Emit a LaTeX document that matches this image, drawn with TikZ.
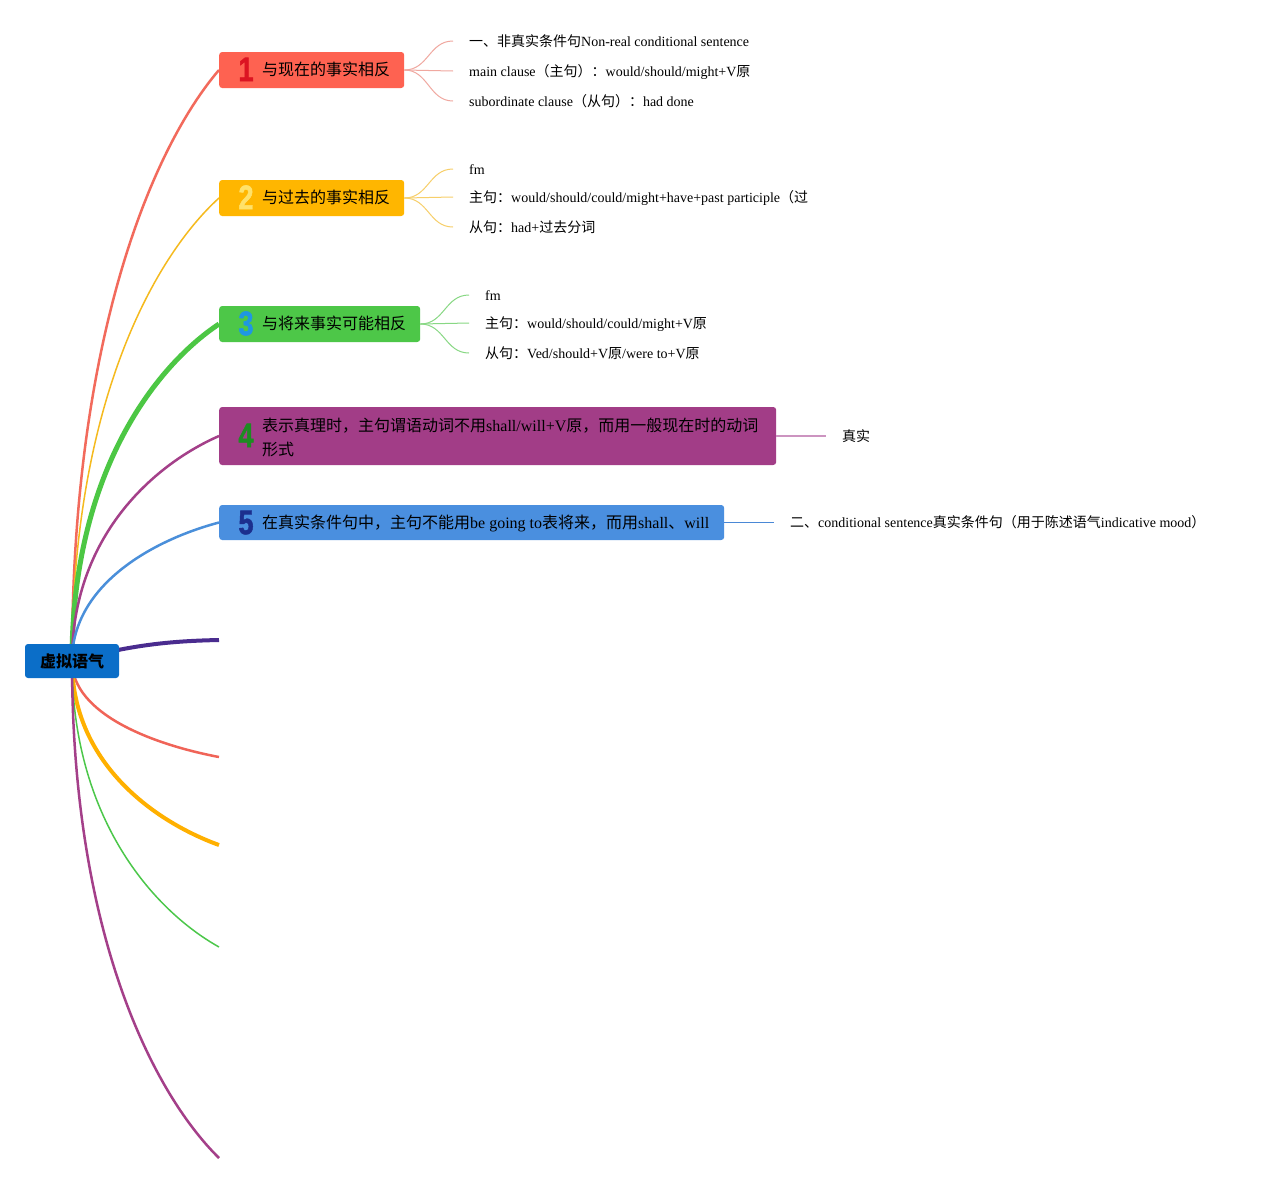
\documentclass[tikz,border=0pt]{standalone}
\usepackage{fontspec}
\usepackage{graphicx}
\setmainfont{Liberation Serif}
\newfontfamily\cjk{Noto Sans CJK SC}
\newfontfamily\digitfont[BoldFeatures={FakeBold=1.6}]{Liberation Sans}
\newcommand{\zhs}[1]{{\cjk #1}}
\usetikzlibrary{backgrounds}
\definecolor{rootC}{HTML}{0B6EC8}
\definecolor{boxA}{HTML}{FE6251}
\definecolor{boxB}{HTML}{FFB600}
\definecolor{boxC}{HTML}{4DC748}
\definecolor{boxD}{HTML}{A23D87}
\definecolor{boxE}{HTML}{4A8FDF}
\definecolor{lineA}{HTML}{F26A5C}
\definecolor{lineB}{HTML}{F5BA1E}
\definecolor{lineC}{HTML}{4CC744}
\definecolor{lineD}{HTML}{A44089}
\definecolor{lineE}{HTML}{4A8FDA}
\definecolor{lineF}{HTML}{4A2C8F}
\definecolor{lineG}{HTML}{F06458}
\definecolor{lineH}{HTML}{FFB000}
\definecolor{lineI}{HTML}{4CC74A}
\definecolor{lineJ}{HTML}{A43F89}
\definecolor{leafA}{HTML}{F0A8A0}
\definecolor{leafB}{HTML}{F7CF6A}
\definecolor{leafC}{HTML}{88D884}
\definecolor{leafD}{HTML}{CC94C0}
\definecolor{leafE}{HTML}{4A88D6}
\definecolor{digA}{HTML}{DC1422}
\definecolor{digB}{HTML}{FFE26A}
\definecolor{digC}{HTML}{1F97E3}
\definecolor{digD}{HTML}{1E8C22}
\definecolor{digE}{HTML}{1C2F8E}
\begin{document}
\begin{tikzpicture}[x=1pt,y=-1pt,
  bbox/.style={rectangle, rounded corners=3pt, inner sep=0pt, minimum height=36pt, anchor=west},
  btext/.style={inner sep=0pt, anchor=west, font=\fontsize{16}{24}\selectfont, text height=11.5pt, text depth=0pt},
  btextml/.style={inner sep=0pt, anchor=west, align=left, font=\fontsize{16}{24}\selectfont},
  dig/.style={inner sep=0pt, font=\fontsize{34}{34}\digitfont\bfseries\selectfont, text height=24.3pt, text depth=0pt},
  leaf/.style={inner xsep=16pt, inner ysep=0pt, anchor=west, font=\fontsize{14}{17}\selectfont, text height=10pt, text depth=0pt},
  leafline/.style={line width=1pt},
]
\useasboundingbox (0,0) rectangle (1265,1184);

% root
\node[fill=rootC, rounded corners=3pt, minimum width=94pt, minimum height=34pt, inner sep=0pt,
      font=\cjk\bfseries\fontsize{16}{16}\selectfont] (root) at (72,661) {虚拟语气};

% branch boxes
\node[bbox, fill=boxA, minimum width=185pt] (b1) at (219,70) {};
\node[bbox, fill=boxB, minimum width=185pt] (b2) at (219,198) {};
\node[bbox, fill=boxC, minimum width=201pt] (b3) at (219,324) {};
\node[bbox, fill=boxD, minimum width=557pt, minimum height=58pt] (b4) at (219,436) {};
\node[bbox, fill=boxE, minimum width=505pt, minimum height=35pt] (b5) at (219,522.5) {};

% digits
\node[dig, text=digA] (n1) at (246,69) {\scalebox{0.8}[1]{1}};
\node[dig, text=digB] (n2) at (246,197) {\scalebox{0.8}[1]{2}};
\node[dig, text=digC] (n3) at (246,323) {\scalebox{0.8}[1]{3}};
\node[dig, text=digD] (n4) at (246,435) {\scalebox{0.8}[1]{4}};
\node[dig, text=digE] (n5) at (246,522) {\scalebox{0.8}[1]{5}};

% box texts
\node[btext] (t1) at (262,70) {\zhs{与现在的事实相反}};
\node[btext] (t2) at (262,198) {\zhs{与过去的事实相反}};
\node[btext] (t3) at (262,324) {\zhs{与将来事实可能相反}};
\node[btextml] (t4) at (262,437) {\zhs{表示真理时，主句谓语动词不用}shall/will+V\zhs{原，而用一般现在时的动词}\\\zhs{形式}};
\node[btext] (t5) at (262,522.5) {\zhs{在真实条件句中，主句不能用}be going to\zhs{表将来，而用}shall\zhs{、}will};

% leaves
\node[leaf] (c11) at (453,41) {\zhs{一、非真实条件句}Non-real conditional sentence};
\node[leaf] (c12) at (453,71) {main clause\zhs{（主句）：}would/should/might+V\zhs{原}};
\node[leaf] (c13) at (453,101) {subordinate clause\zhs{（从句）：}had done};
\node[leaf] (c21) at (453,169) {fm};
\node[leaf] (c22) at (453,197) {\zhs{主句：}would/should/could/might+have+past participle\zhs{（过}};
\node[leaf] (c23) at (453,227) {\zhs{从句：}had+\zhs{过去分词}};
\node[leaf] (c31) at (469,295) {fm};
\node[leaf] (c32) at (469,323) {\zhs{主句：}would/should/could/might+V\zhs{原}};
\node[leaf] (c33) at (469,353) {\zhs{从句：}Ved/should+V\zhs{原}/were to+V\zhs{原}};
\node[leaf] (c41) at (826,436) {\zhs{真实}};
\node[leaf] (c51) at (774,522.5) {\zhs{二、}conditional sentence\zhs{真实条件句（用于陈述语气}indicative mood\zhs{）}};

% free ends of empty branches
\coordinate (e1) at (219,640);
\coordinate (e2) at (219,757);
\coordinate (e3) at (219,845);
\coordinate (e4) at (219,947);
\coordinate (e5) at (219,1158);

\begin{scope}[on background layer]
  \fill[white] (0,0) rectangle (1265,1184);
  \draw[lineA, line width=2.5pt] (root.center) .. controls (72,336) and (153,147) .. (b1.west);
  \draw[lineB, line width=1.5pt] (root.center) .. controls (72,406) and (153,258) .. (b2.west);
  \draw[lineC, line width=5pt] (root.center) .. controls (72,476) and (153,368) .. (b3.west);
  \draw[lineD, line width=2.5pt] (root.center) .. controls (72,537) and (153,465) .. (b4.west);
  \draw[lineE, line width=2.5pt] (root.center) .. controls (72,585) and (153,540) .. (b5.west);
  \draw[lineF, line width=4pt] (root.center) .. controls (130,645) and (170,641) .. (e1);
  \draw[lineG, line width=2.5pt] (root.center) .. controls (72,714) and (153,744.5) .. (e2);
  \draw[lineH, line width=4pt] (root.center) .. controls (72,762) and (153,821) .. (e3);
  \draw[lineI, line width=1.5pt] (root.center) .. controls (72,818) and (153,910) .. (e4);
  \draw[lineJ, line width=2.5pt] (root.center) .. controls (72,934) and (153,1093) .. (e5);
\end{scope}

% leaf connectors
\foreach \c in {c11,c12,c13}
  \draw[leafA, leafline] (b1.east) .. controls +(24,0) and +(-24,0) .. (\c.west);
\foreach \c in {c21,c22,c23}
  \draw[leafB, leafline] (b2.east) .. controls +(24,0) and +(-24,0) .. (\c.west);
\foreach \c in {c31,c32,c33}
  \draw[leafC, leafline] (b3.east) .. controls +(24,0) and +(-24,0) .. (\c.west);
\draw[leafD, line width=1.2pt] (b4.east) -- (c41.west);
\draw[leafE, line width=0.8pt] (b5.east) -- (c51.west);
\end{tikzpicture}
\end{document}
